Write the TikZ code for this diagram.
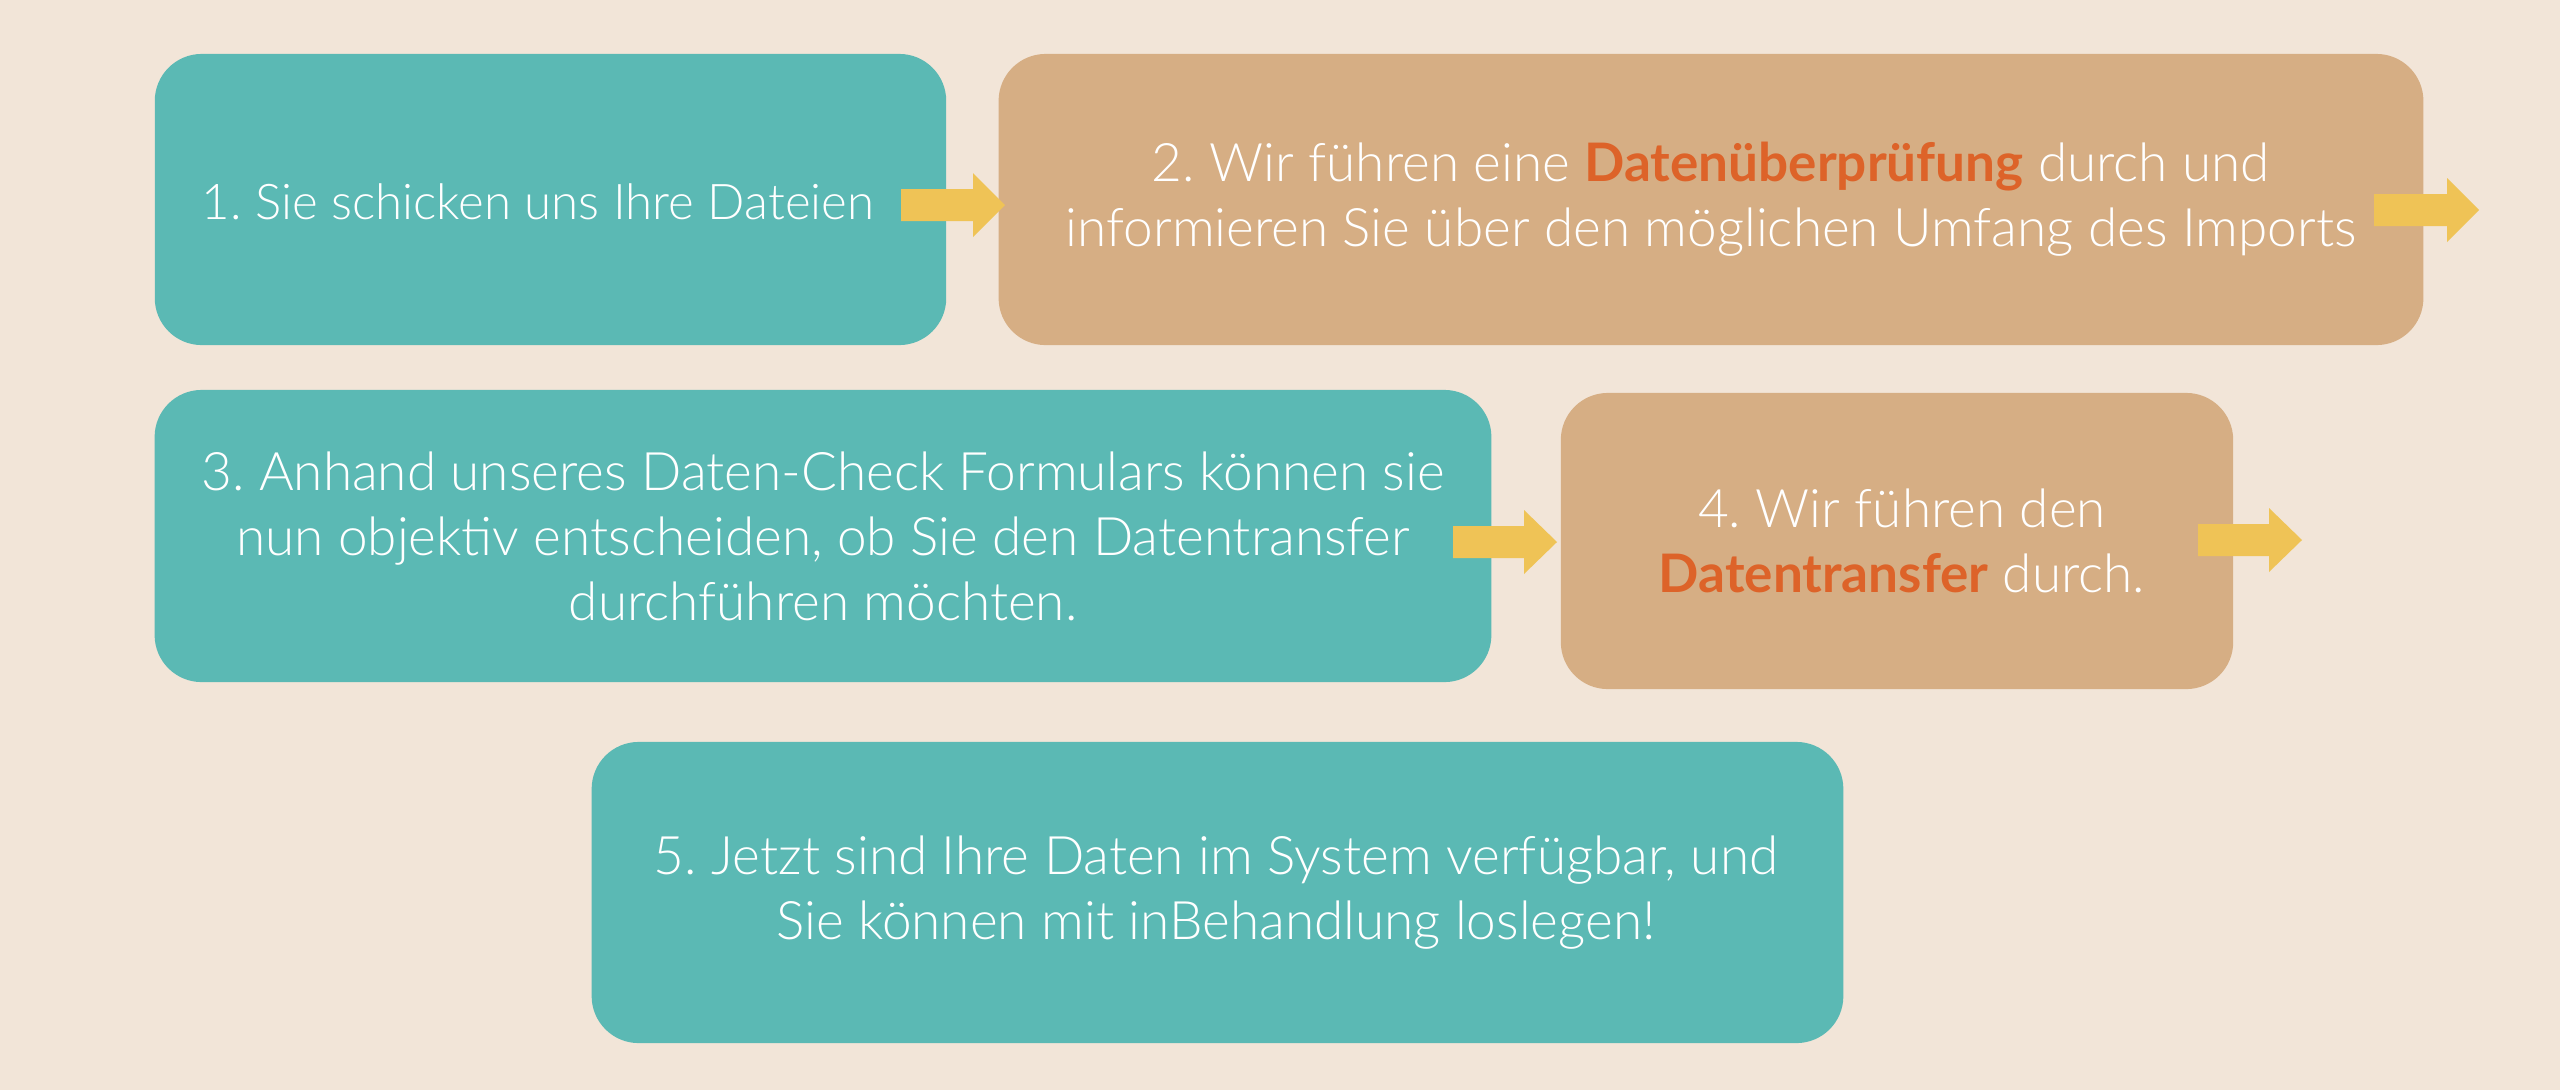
\documentclass[tikz,border=0pt]{standalone}
\usepackage{fontspec}
\setmainfont{Lato}[UprightFont=* Light, BoldFont=* Bold]
\frenchspacing
\definecolor{bgc}{HTML}{F2E5D8}
\definecolor{teal}{HTML}{5BB9B4}
\definecolor{tan}{HTML}{D6AE84}
\definecolor{arrc}{HTML}{EFC356}
\definecolor{orng}{HTML}{DD6329}
\tikzset{
  boxbase/.style={rounded corners=0.47cm, inner sep=0pt, align=center, text=white,
    font=\fontsize{15.1}{18.5}\selectfont\frenchspacing},
  tealbox/.style={boxbase, fill=teal},
  tanbox/.style={boxbase, fill=tan},
  yarrow/.style={fill=arrc},
}
\newcommand{\hl}[1]{\textbf{\color{orng}#1}}
\begin{document}
\begin{tikzpicture}[x=0.01cm,y=-0.01cm]
\fill[bgc] (0,0) rectangle (2560,1090);
\useasboundingbox (0,0) rectangle (2560,1090);
% boxes
\node[tealbox, minimum width=7.91cm, minimum height=2.91cm] (b1) at (550.5,199.5) {};
\node[tanbox, minimum width=14.24cm, minimum height=2.91cm] (b2) at (1711,199.5) {};
\node[tealbox, minimum width=13.36cm, minimum height=2.92cm] (b3) at (823,536) {};
\node[tanbox, minimum width=6.72cm, minimum height=2.96cm] (b4) at (1897,541) {};
\node[tealbox, minimum width=12.51cm, minimum height=3.01cm] (b5) at (1217.5,892.5) {};
% texts
\node[boxbase, font=\fontsize{14}{18.5}\selectfont\frenchspacing] (t1) at (538,202) {1. Sie schicken uns Ihre Dateien};
\node[boxbase] (t2) at (1711,199.5) {2. Wir führen eine \hl{Datenüberprüfung} durch und\\informieren Sie über den möglichen Umfang des Imports};
\node[boxbase] (t3) at (823,536) {3. Anhand unseres Daten-Check Formulars können sie\\nun objektiv entscheiden, ob Sie den Datentransfer\\durchführen möchten.};
\node[boxbase] (t4) at (1902,541) {4. Wir führen den\\\hl{Datentransfer} durch.};
\node[boxbase] (t5) at (1216,893) {5. Jetzt sind Ihre Daten im System verfügbar, und\\Sie können mit inBehandlung loslegen!};
% arrows
\newcommand{\yarr}[4]{% start, headstart, tip, ycenter
  \fill[yarrow] (#1,#4-16) -- (#2,#4-16) -- (#2,#4-32) -- (#3,#4) -- (#2,#4+32) -- (#2,#4+16) -- (#1,#4+16) -- cycle;}
\yarr{901}{973}{1005}{205}
\yarr{2374}{2447}{2479}{210}
\yarr{1453}{1524}{1557}{542}
\yarr{2198}{2269}{2302}{540}
\end{tikzpicture}
\end{document}
